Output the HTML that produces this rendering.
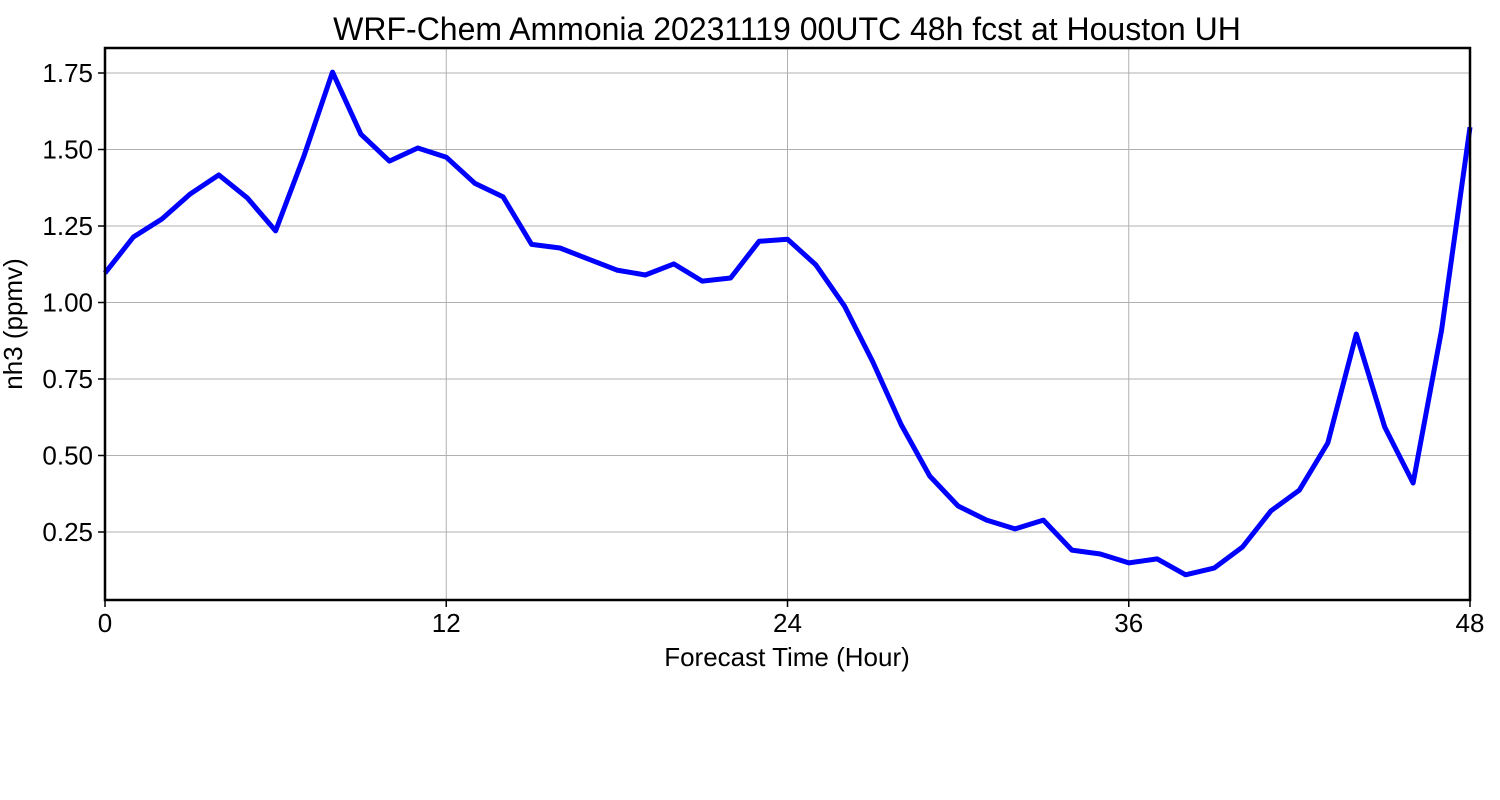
<!DOCTYPE html>
<html><head><meta charset="utf-8">
<style>
html,body{margin:0;padding:0;background:#fff;}
svg{display:block;font-family:"Liberation Sans","DejaVu Sans",sans-serif;}
</style></head>
<body>
<svg id="chart" width="1500" height="800" viewBox="0 0 1500 800">
<rect width="1500" height="800" fill="#fff"/>
<text x="787" y="40" font-size="32" text-anchor="middle">WRF-Chem Ammonia  20231119 00UTC 48h fcst at Houston UH</text>
<g id="grid"></g>
<g id="ticks"></g>
<polyline id="line" fill="none" stroke="#0000ff" stroke-width="5" stroke-linejoin="round"/>
<rect x="105" y="48" width="1365" height="552" fill="none" stroke="#000" stroke-width="2.5"/>
<text x="787" y="666" font-size="26" text-anchor="middle">Forecast Time (Hour)</text>
<text transform="translate(22,324) rotate(-90)" font-size="26" text-anchor="middle">nh3  (ppmv)</text>
</svg>
<script>
const hours = [0,1,2,3,4,5,6,7,8,9,10,11,12,13,14,15,16,17,18,19,20,21,22,23,24,25,26,27,28,29,30,31,32,33,34,35,36,37,38,39,40,41,42,43,44,45,46,47,48];
const nh3Values = [1.096,1.214,1.273,1.355,1.417,1.342,1.234,1.48,1.753,1.55,1.462,1.505,1.475,1.39,1.345,1.19,1.178,1.142,1.106,1.09,1.126,1.07,1.08,1.20,1.207,1.123,0.989,0.806,0.6,0.433,0.335,0.289,0.26,0.289,0.191,0.178,0.149,0.162,0.11,0.132,0.201,0.319,0.387,0.541,0.897,0.593,0.41,0.91,1.573];
const xTicks = [0,12,24,36,48];
const yTicks = [0.25,0.5,0.75,1.0,1.25,1.5,1.75];
const yTickLabels = ["0.25","0.50","0.75","1.00","1.25","1.50","1.75"];

const X0=105,X1=1470,Y0=48,Y1=600;
const xMin=0,xMax=48,yMin=0.0278,yMax=1.8317;
const sx=v=>X0+(v-xMin)/(xMax-xMin)*(X1-X0);
const sy=v=>Y1-(v-yMin)/(yMax-yMin)*(Y1-Y0);
const NS="http://www.w3.org/2000/svg";
const grid=document.getElementById('grid'), ticks=document.getElementById('ticks');
function mk(tag,attrs,parent){const e=document.createElementNS(NS,tag);for(const k in attrs)e.setAttribute(k,attrs[k]);parent.appendChild(e);return e;}

xTicks.forEach(t=>{
  const x=sx(t);
  const g=mk('line',{x1:x,x2:x,y1:Y0,y2:Y1,stroke:'#b0b0b0','stroke-width':1},grid);
  
  
  const tk=mk('line',{x1:x,x2:x,y1:Y1,y2:Y1+7,stroke:'#000','stroke-width':1.5},ticks);
  
  
  const lb=mk('text',{x:x,y:632,'font-size':26,'text-anchor':'middle'},ticks);
  lb.textContent=String(t);
  
  
});
yTicks.forEach((t,i)=>{
  const y=sy(t);
  const g=mk('line',{x1:X0,x2:X1,y1:y,y2:y,stroke:'#b0b0b0','stroke-width':1},grid);
  
  
  const tk=mk('line',{x1:X0-7,x2:X0,y1:y,y2:y,stroke:'#000','stroke-width':1.5},ticks);
  
  
  const lb=mk('text',{x:93,y:y+9,'font-size':26,'text-anchor':'end'},ticks);
  lb.textContent=yTickLabels[i];
  
  
});
document.getElementById('line').setAttribute('points',hours.map((h,i)=>sx(h).toFixed(1)+','+sy(nh3Values[i]).toFixed(1)).join(' '));
</script>
</body></html>
